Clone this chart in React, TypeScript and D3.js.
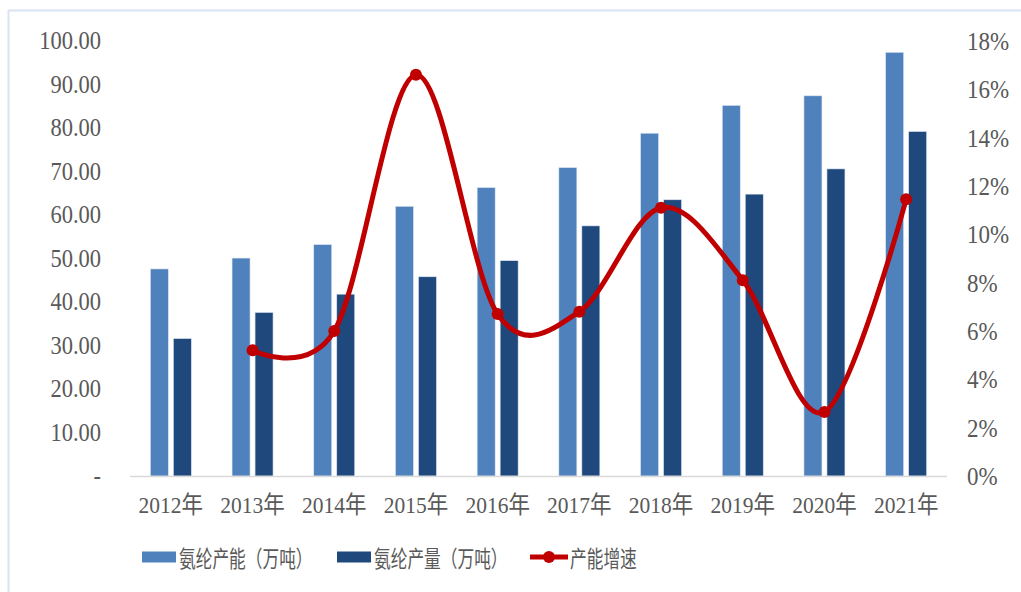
import React from "react";
import * as d3 from "d3";

const categories = ["2012年", "2013年", "2014年", "2015年", "2016年", "2017年", "2018年", "2019年", "2020年", "2021年"];
const capacity = [47.6, 50.1, 53.2, 62.0, 66.3, 70.9, 78.8, 85.2, 87.4, 97.4];
const output = [31.6, 37.6, 41.8, 45.8, 49.5, 57.5, 63.5, 64.8, 70.6, 79.2];
const growth: (number | null)[] = [null, 5.2, 6.0, 16.6, 6.7, 6.8, 11.1, 8.1, 2.65, 11.45];
const leftTicks = [0, 10, 20, 30, 40, 50, 60, 70, 80, 90, 100];
const rightTicks = [0, 2, 4, 6, 8, 10, 12, 14, 16, 18];
const legendLabels = ["氨纶产能（万吨）", "氨纶产量（万吨）", "产能增速"];

const C_LIGHT = "#4F81BD";
const C_DARK = "#1F497D";
const C_RED = "#C00000";
const TXT = "#595959";
const SERIF = "'Liberation Serif', 'Times New Roman', 'Noto Sans CJK SC', serif";
const CJK = "'Noto Sans CJK SC', sans-serif";

export default function App() {
  const W = 1021, H = 592;
  const x0 = 130, x1 = 947;
  const yBase = 476, yTop = 41;
  const x = d3.scaleBand<string>().domain(categories).range([x0, x1]);
  const yL = d3.scaleLinear().domain([0, 100]).range([yBase, yTop]);
  const yR = d3.scaleLinear().domain([0, 18]).range([yBase, yTop]);
  const bw = 18, gap = 5;
  const cx = (c: string) => (x(c) as number) + x.bandwidth() / 2;

  const pts = categories
    .map((c, i) => ({ c, v: growth[i] }))
    .filter((d) => d.v !== null) as { c: string; v: number }[];
  const line = d3
    .line<{ c: string; v: number }>()
    .x((d) => cx(d.c))
    .y((d) => yR(d.v))
    .curve(d3.curveCardinal.tension(0));

  const T = (px: number, py: number, s: string, anchor: string, fam: string, fs: number, sy: number, key?: any) => (
    <text
      key={key}
      transform={`translate(${px},${py}) scale(1,${sy})`}
      textAnchor={anchor as any}
      dominantBaseline="central"
      fontFamily={fam}
      fontSize={fs}
      fill={TXT}
    >
      {s}
    </text>
  );

  return (
    <svg width={W} height={H} style={{ position: "absolute", left: 0, top: 0 }}>
      <rect x={0} y={0} width={W} height={H} fill="#fff" />
      <line x1={8.5} y1={10} x2={8.5} y2={H} stroke="#dae3f3" strokeWidth={2} />
      <line x1={8} y1={10.5} x2={W} y2={10.5} stroke="#dae3f3" strokeWidth={2} />

      {categories.map((c, i) => (
        <g key={c}>
          <rect x={cx(c) - gap / 2 - bw} y={yL(capacity[i])} width={bw} height={yBase - yL(capacity[i])} fill={C_LIGHT} stroke="#dce6f2" strokeWidth={0.6} />
          <rect x={cx(c) + gap / 2} y={yL(output[i])} width={bw} height={yBase - yL(output[i])} fill={C_DARK} stroke="#dce6f2" strokeWidth={0.6} />
        </g>
      ))}
      <line x1={x0} x2={x1} y1={yBase + 0.5} y2={yBase + 0.5} stroke="#d9d9d9" strokeWidth={1.5} />

      <path d={line(pts) || ""} fill="none" stroke={C_RED} strokeWidth={5} strokeLinejoin="round" />
      {pts.map((d) => (
        <circle key={d.c} cx={cx(d.c)} cy={yR(d.v)} r={6} fill={C_RED} />
      ))}

      {leftTicks.map((t) => T(101, yL(t), t === 0 ? "-" : t.toFixed(2), "end", SERIF, 22.5, 1.1, "l" + t))}
      {rightTicks.map((t) => T(967, yR(t), t + "%", "start", SERIF, 23, 1.1, "r" + t))}
      {categories.map((c) => T(cx(c), 505, c, "middle", SERIF, 21.5, 1.1, "x" + c))}

      <rect x={142} y={551.5} width={34} height={11} fill={C_LIGHT} />
      {T(179, 557, legendLabels[0], "start", CJK, 16.7, 1.35, "lg0")}
      <rect x={337} y={551.5} width={34} height={11} fill={C_DARK} />
      {T(374, 557, legendLabels[1], "start", CJK, 16.7, 1.35, "lg1")}
      <line x1={530} x2={568} y1={557} y2={557} stroke={C_RED} strokeWidth={5} />
      <circle cx={549} cy={557} r={6} fill={C_RED} />
      {T(570, 557, legendLabels[2], "start", CJK, 16.7, 1.35, "lg2")}
    </svg>
  );
}
